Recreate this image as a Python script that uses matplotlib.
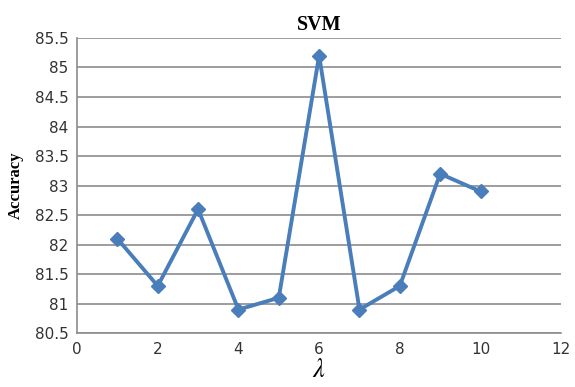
import numpy as np
import matplotlib.pyplot as plt

lam = [1, 2, 3, 4, 5, 6, 7, 8, 9, 10]
accuracy = [82.1, 81.3, 82.6, 80.9, 81.1, 85.2, 80.9, 81.3, 83.2, 82.9]

plt.rcParams["mathtext.fontset"] = "stix"

fig = plt.figure(figsize=(5.75, 3.87), dpi=100)
ax = fig.add_axes([0.134, 0.139, 0.842, 0.763])

ax.plot(lam, accuracy, color="#4a7ebb", linewidth=2.8, marker="D", markersize=7,
        clip_on=False, zorder=3)

ax.set_xlim(0, 12)
ax.set_ylim(80.5, 85.5)
ax.set_xticks(np.arange(0, 13, 2))
ax.set_yticks(np.arange(80.5, 85.6, 0.5))
ax.set_yticklabels(["%g" % v for v in np.arange(80.5, 85.6, 0.5)])
ax.yaxis.grid(True, color="#8c8c8c", linewidth=1.2)
ax.set_axisbelow(True)

for s in ["top", "right"]:
    ax.spines[s].set_visible(False)
ax.spines["left"].set_color("#8c8c8c")
ax.spines["left"].set_linewidth(1.2)
ax.spines["bottom"].set_color("#8c8c8c")
ax.spines["bottom"].set_linewidth(1.2)
ax.tick_params(length=0, labelsize=11, colors="#333333", pad=6)

ax.set_title("SVM", fontfamily="Liberation Serif", fontweight="bold", fontsize=14.5, pad=6)
ax.set_ylabel("Accuracy", fontfamily="Liberation Serif", fontweight="bold", fontsize=12, labelpad=8)
ax.set_xlabel(r"$\lambda$", fontsize=19, labelpad=0)

fig.savefig("out.png", dpi=100)
